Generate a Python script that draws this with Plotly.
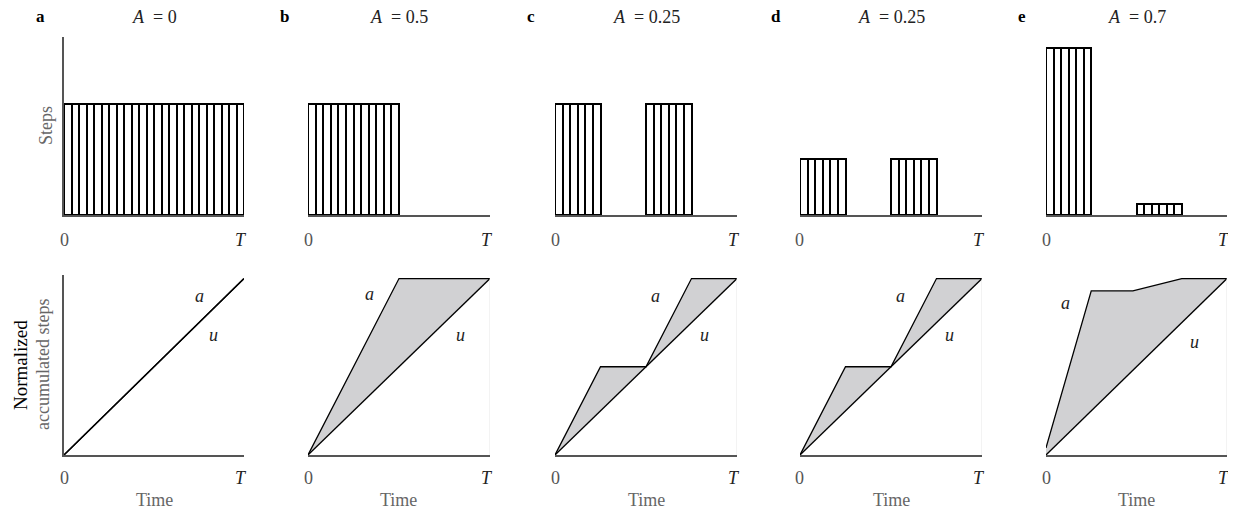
import plotly.graph_objects as go

# page body adds an 8px margin, so lay out in reference pixels minus 8
OFF = 8
W, H = 1236 - OFF, 517 - OFF
FONT = "Liberation Serif, Times New Roman, DejaVu Serif, serif"

panel_letters = ["a", "b", "c", "d", "e"]
a_values = ["0", "0.5", "0.25", "0.25", "0.7"]

# step bars per panel: (start times, heights), each bar 1/24 of T wide
bar_width = 1 / 24
step_starts = [
    [i / 24 for i in range(24)],
    [i / 24 for i in range(12)],
    [i / 24 for i in range(6)] + [0.5 + i / 24 for i in range(6)],
    [i / 24 for i in range(6)] + [0.5 + i / 24 for i in range(6)],
    [i / 24 for i in range(6)] + [0.5 + i / 24 for i in range(6)],
]
step_heights = [
    [1.0] * 24,
    [1.0] * 12,
    [1.0] * 12,
    [0.5] * 12,
    [1.5] * 6 + [0.1] * 6,
]

# normalized accumulated steps
u_x = [0, 1]
u_y = [0, 1]
acc_x = [
    [0, 1],
    [0, 0.5, 1],
    [0, 0.25, 0.5, 0.75, 1],
    [0, 0.25, 0.5, 0.75, 1],
    [0, 0.25, 0.48, 0.75, 1],
]
acc_y = [
    [0, 1],
    [0, 1, 1],
    [0, 0.5, 0.5, 1, 1],
    [0, 0.5, 0.5, 1, 1],
    [0.04, 0.93, 0.93, 1, 1],
]
label_a_pos = [(0.75, 0.9), (0.34, 0.91), (0.55, 0.9), (0.55, 0.9), (0.11, 0.86)]
label_u_pos = [(0.83, 0.68), (0.84, 0.68), (0.82, 0.68), (0.82, 0.68), (0.82, 0.64)]

col_px = [(64, 244), (308, 490), (555, 737), (800, 982), (1046, 1227)]
top_px = (37, 215)
bot_px = (275, 455)

fig = go.Figure()
layout = {}


def xd(px):
    return (px - OFF) / W


def yd(py):
    return 1 - (py - OFF) / H


for i in range(5):
    x0, x1 = col_px[i]
    t = 2 * i + 1
    b = 2 * i + 2
    axstyle = dict(showgrid=False, zeroline=False, showticklabels=False, ticks="",
                   showline=True, linecolor="#555555", linewidth=2, fixedrange=True)
    layout[f"xaxis{t}"] = dict(domain=[xd(x0), xd(x1)], range=[0, 1], anchor=f"y{t}", **axstyle)
    layout[f"yaxis{t}"] = dict(domain=[yd(top_px[1]), yd(top_px[0])], range=[0, 1.6], anchor=f"x{t}",
                               **{**axstyle, "showline": i == 0})
    layout[f"xaxis{b}"] = dict(domain=[xd(x0), xd(x1)], range=[0, 1], anchor=f"y{b}", **axstyle)
    layout[f"yaxis{b}"] = dict(domain=[yd(bot_px[1]), yd(bot_px[0])], range=[0, 1.02], anchor=f"x{b}",
                               **{**axstyle, "showline": i == 0})

    fig.add_trace(go.Bar(
        x=step_starts[i], y=step_heights[i], width=bar_width, offset=0,
        marker=dict(color="white", line=dict(color="black", width=2)),
        xaxis=f"x{t}", yaxis=f"y{t}", showlegend=False, hoverinfo="skip"))

    fig.add_trace(go.Scatter(x=u_x, y=u_y, mode="lines", line=dict(color="black", width=1.3),
                             xaxis=f"x{b}", yaxis=f"y{b}", showlegend=False, hoverinfo="skip"))
    fig.add_trace(go.Scatter(x=acc_x[i], y=acc_y[i], mode="lines",
                             line=dict(color="black", width=1.3),
                             fill="tonexty" if i > 0 else None, fillcolor="#d1d1d3",
                             xaxis=f"x{b}", yaxis=f"y{b}", showlegend=False, hoverinfo="skip"))
    if i > 0:
        fig.add_trace(go.Scatter(x=[1, 1], y=[0, 1], mode="lines",
                                 line=dict(color="#e6e6e6", width=1),
                                 xaxis=f"x{b}", yaxis=f"y{b}", showlegend=False, hoverinfo="skip"))

    ann = []
    for yp in (240, 478):
        ann.append(dict(x=xd(x0), y=yd(yp), text="0", font=dict(size=18, family=FONT, color="#555555")))
        ann.append(dict(x=xd(x1 - 3), y=yd(yp), text="<i>T</i>"))
    ann.append(dict(x=xd((x0 + x1) / 2), y=yd(500), text="Time",
                    font=dict(color="#666666", size=18, family=FONT)))
    ann.append(dict(x=xd((x0 + x1) / 2), y=yd(17), text=f"<i>A</i>  = {a_values[i]}"))
    ann.append(dict(x=xd(x0 - 24), y=yd(16), text=f"<b>{panel_letters[i]}</b>",
                    font=dict(size=17, family=FONT, color="black")))
    ax, ay = label_a_pos[i]
    ux, uy = label_u_pos[i]
    ann.append(dict(x=ax, y=ay, xref=f"x{b}", yref=f"y{b}", text="<i>a</i>"))
    ann.append(dict(x=ux, y=uy, xref=f"x{b}", yref=f"y{b}", text="<i>u</i>"))
    for a in ann:
        a.setdefault("xref", "paper")
        a.setdefault("yref", "paper")
        a.setdefault("font", dict(size=18, family=FONT, color="#222222"))
        a.update(showarrow=False, xanchor="center", yanchor="middle")
        fig.add_annotation(**a)

side = [
    (46, 126, "Steps", 18, "#666666"),
    (20, 365, "Normalized", 19, "black"),
    (43, 365, "accumulated steps", 18, "#666666"),
]
for px, py, txt, sz, col in side:
    fig.add_annotation(x=xd(px), y=yd(py), xref="paper", yref="paper", text=txt, textangle=-90,
                       showarrow=False, xanchor="center", yanchor="middle",
                       font=dict(size=sz, family=FONT, color=col))

fig.update_layout(width=W, height=H, margin=dict(l=0, r=0, t=0, b=0),
                  font=dict(family=FONT),
                  plot_bgcolor="white", paper_bgcolor="white", bargap=0, **layout)
fig.write_html("out.html")
